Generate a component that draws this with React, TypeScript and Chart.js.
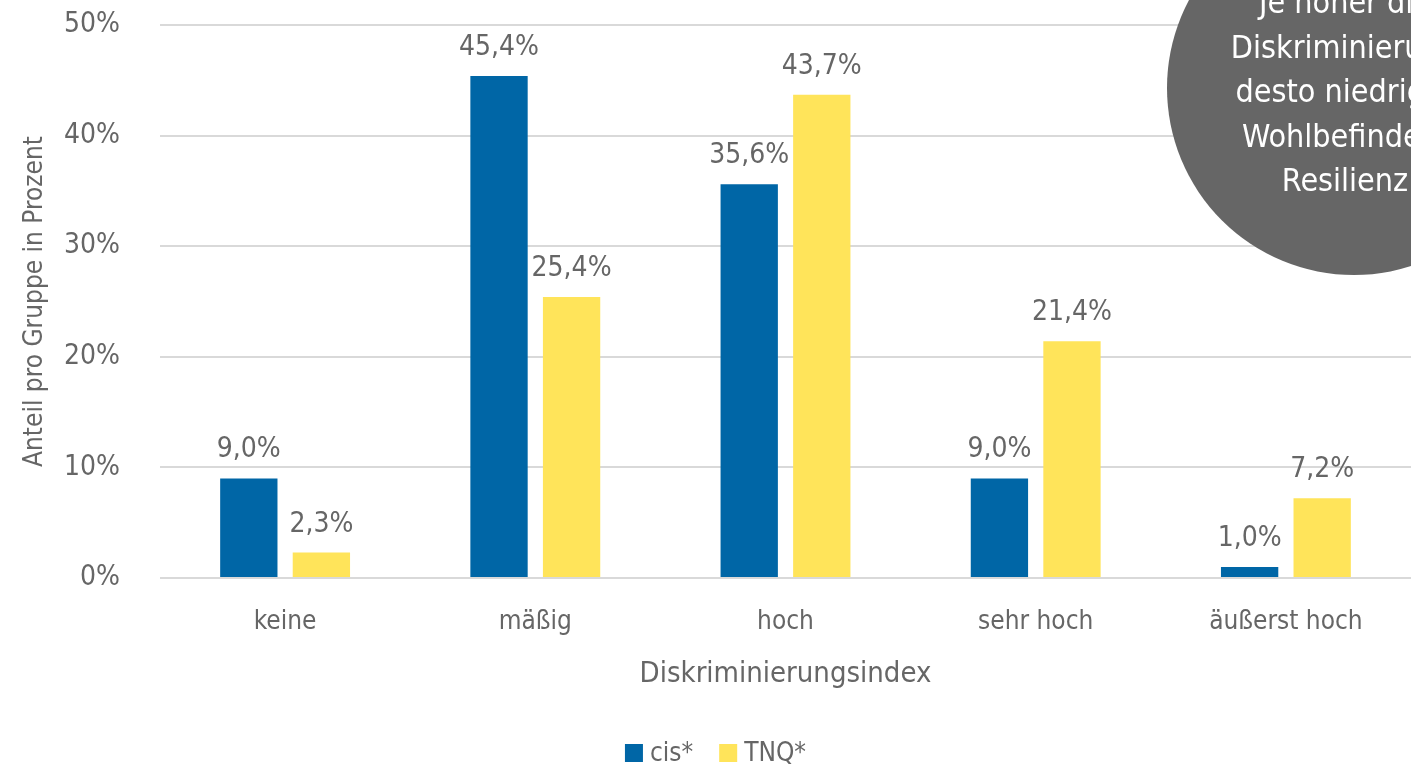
import React, { useEffect, useRef } from "react";
import { Chart, registerables } from "chart.js";

Chart.register(...registerables);

const categories = ["keine", "mäßig", "hoch", "sehr hoch", "äußerst hoch"];
const cisValues = [9.0, 45.4, 35.6, 9.0, 1.0];
const tnqValues = [2.3, 25.4, 43.7, 21.4, 7.2];
const seriesLabels = ["cis*", "TNQ*"];
const yTicks = [0, 10, 20, 30, 40, 50];
const calloutLines = ["Je höher die", "Diskriminierung", "desto niedriger", "Wohlbefinden,", "Resilienz"];

const FONT = "'Liberation Sans Narrow', 'DejaVu Sans Condensed', 'Roboto Condensed', Roboto, sans-serif";
const TEXT = "#666666";
const BLUE = "#0066A6";
const YELLOW = "#FFE45A";

const fmt = (v: number) => v.toFixed(1).replace(".", ",") + "%";

const dataLabelPlugin = {
  id: "dataLabels",
  afterDatasetsDraw(chart: any) {
    const ctx = chart.ctx;
    ctx.save();
    ctx.font = `28px ${FONT}`;
    ctx.fillStyle = TEXT;
    ctx.textAlign = "center";
    ctx.textBaseline = "alphabetic";
    chart.data.datasets.forEach((ds: any, di: number) => {
      const meta = chart.getDatasetMeta(di);
      meta.data.forEach((el: any, i: number) => {
        ctx.fillText(fmt(ds.data[i]), el.x, el.y - 21);
      });
    });
    ctx.restore();
  },
};

const legendPlugin = {
  id: "customLegend",
  afterDraw(chart: any) {
    const ctx = chart.ctx;
    ctx.save();
    ctx.font = `26px ${FONT}`;
    ctx.textBaseline = "middle";
    ctx.textAlign = "left";
    const box = 18;
    const gap = 7;
    const itemGap = 26;
    const items = chart.data.datasets.map((ds: any) => ({
      label: ds.label,
      color: ds.backgroundColor,
      w: box + gap + ctx.measureText(ds.label).width,
    }));
    const total = items.reduce((s: number, it: any) => s + it.w, 0) + itemGap * (items.length - 1);
    let x = (chart.width - total) / 2 + 10;
    const cy = 753;
    items.forEach((it: any) => {
      ctx.fillStyle = it.color;
      ctx.fillRect(x, cy - box / 2, box, box);
      ctx.fillStyle = TEXT;
      ctx.fillText(it.label, x + box + gap, cy + 1);
      x += it.w + itemGap;
    });
    ctx.restore();
  },
};

const calloutPlugin = {
  id: "callout",
  afterDraw(chart: any) {
    const ctx = chart.ctx;
    ctx.save();
    ctx.beginPath();
    ctx.arc(1354, 88, 187, 0, Math.PI * 2);
    ctx.fillStyle = "#666666";
    ctx.fill();
    ctx.font = `32px ${FONT}`;
    ctx.fillStyle = "#ffffff";
    ctx.textAlign = "center";
    ctx.textBaseline = "middle";
    calloutLines.forEach((line, i) => {
      ctx.fillText(line, 1345, 5 + i * 44.5);
    });
    ctx.restore();
  },
};

export default function App() {
  const ref = useRef<HTMLCanvasElement | null>(null);
  useEffect(() => {
    document.body.style.margin = "0";
    if (!ref.current) return;
    const chart = new Chart(ref.current, {
      type: "bar",
      data: {
        labels: categories,
        datasets: [
          { label: seriesLabels[0], data: cisValues, backgroundColor: BLUE, categoryPercentage: 0.58, barPercentage: 0.79 },
          { label: seriesLabels[1], data: tnqValues, backgroundColor: YELLOW, categoryPercentage: 0.58, barPercentage: 0.79 },
        ],
      },
      options: {
        responsive: false,
        animation: false,
        layout: { padding: { top: 0, right: 0, bottom: 72, left: 0 } },
        plugins: { legend: { display: false }, tooltip: { enabled: false } },
        scales: {
          x: {
            grid: { display: false, drawTicks: false },
            border: { display: false },
            ticks: { color: TEXT, font: { family: FONT, size: 26 }, padding: 29, maxRotation: 0 },
            title: { display: true, text: "Diskriminierungsindex", color: TEXT, font: { family: FONT, size: 29 }, padding: { top: 0, bottom: 1 } },
            afterFit: (s: any) => { s.height = 115; },
          },
          y: {
            min: 0,
            max: 50,
            afterBuildTicks: (s: any) => { s.ticks = yTicks.map((v) => ({ value: v })); },
            grid: { color: "#d9d9d9", lineWidth: 2, drawTicks: false },
            border: { display: false },
            ticks: { color: TEXT, font: { family: FONT, size: 28 }, padding: 40, callback: (v: any) => v + "%" },
            title: { display: true, text: "Anteil pro Gruppe in Prozent", color: TEXT, font: { family: FONT, size: 26 }, padding: { top: 20, bottom: 0 } },
            afterFit: (s: any) => { s.width = 160; s.paddingTop = 25; s.paddingBottom = 20; },
          },
        },
      },
      plugins: [dataLabelPlugin, calloutPlugin, legendPlugin],
    });
    return () => chart.destroy();
  }, []);
  return (
    <div style={{ position: "absolute", left: 0, top: 0, width: 1411, height: 765 }}>
      <canvas ref={ref} width={1411} height={765} style={{ display: "block" }} />
    </div>
  );
}
